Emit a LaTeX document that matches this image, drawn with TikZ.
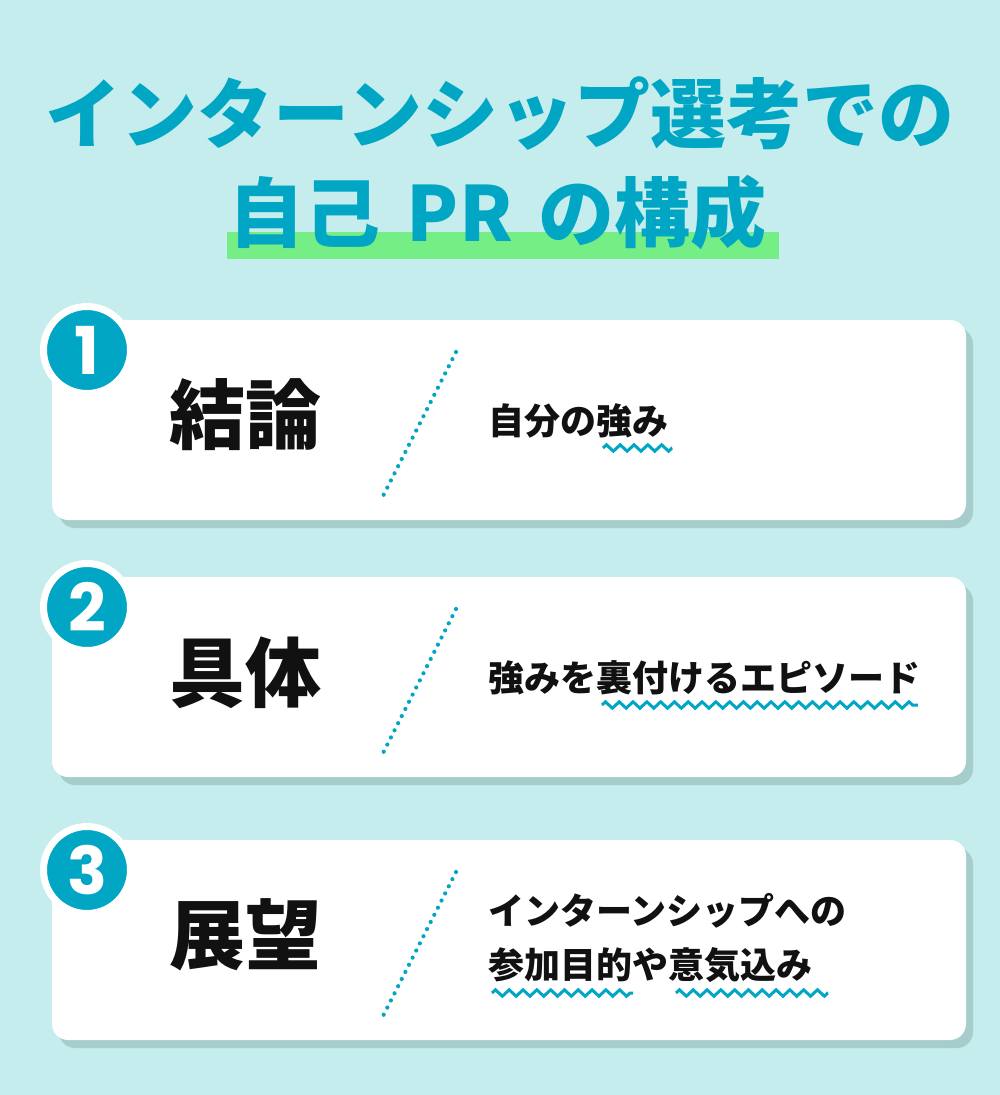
\documentclass[tikz,border=0pt]{standalone}
\usepackage{fontspec}
\newfontfamily\jpfont{Noto Sans CJK JP}
\newfontfamily\numfont{Poppins}
\usetikzlibrary{decorations.pathmorphing}
\definecolor{bgcyan}{RGB}{198,237,237}
\definecolor{tealblue}{RGB}{0,166,196}
\definecolor{markgreen}{RGB}{118,238,134}
\definecolor{shadowgray}{RGB}{166,204,204}
\definecolor{inkblack}{RGB}{17,17,17}

\tikzset{
  cardbox/.style={fill=white, rounded corners=16pt},
  cardshadow/.style={fill=shadowgray, rounded corners=16pt},
  numdisc/.style={circle, fill=tealblue, draw=white, line width=7pt, minimum size=87pt,
    inner sep=0pt, text=white, font=\numfont\bfseries\fontsize{66}{66}\selectfont},
  headword/.style={inner sep=0pt, text=inkblack, font=\jpfont\bfseries\fontsize{76}{76}\selectfont},
  bodytext/.style={inner sep=0pt, anchor=west, text=inkblack, font=\jpfont\bfseries\fontsize{36}{36}\selectfont},
  titletext/.style={inner sep=0pt, text=tealblue, font=\jpfont\bfseries\fontsize{76}{76}\selectfont},
  divider/.style={tealblue, line width=4.2pt, line cap=round, dash pattern=on 0pt off 8pt},
  squiggle/.style={tealblue, line width=3pt, decorate,
    decoration={zigzag, segment length=13.8pt, amplitude=3.2pt}},
}

\begin{document}
\begin{tikzpicture}[x=1pt, y=-1pt]
  \fill [bgcyan] (0,0) rectangle (1000,1095);
  \useasboundingbox (0,0) rectangle (1000,1095);

  % title
  \fill [markgreen] (227,232) rectangle (779,259);
  \node [titletext] (title1) at (500,114) {インターンシップ選考での};
  \node [titletext] (title2) at (498,213) {自己\hspace{26pt}PR\hspace{26pt}の構成};

  % card 1
  \fill [cardshadow] (59,328) rectangle (973,528);
  \fill [cardbox] (52,320) rectangle (966,520);
  \node [numdisc] (num1) at (87,350) {1};
  \node [headword] (head1) at (245,415) {結論};
  \draw [divider] (456,352) -- (381,500);
  \node [bodytext] (body1) at (488,421) {自分の強み};
  \draw [squiggle] (603,448) -- (672,448);

  % card 2
  \fill [cardshadow] (59,585) rectangle (973,785);
  \fill [cardbox] (52,577) rectangle (966,777);
  \node [numdisc] (num2) at (87,607) {2};
  \node [headword] (head2) at (245,673) {具体};
  \draw [divider] (456,609) -- (381,757);
  \node [bodytext] (body2) at (488,678) {強みを裏付けるエピソード};
  \draw [squiggle] (602,705) -- (918,705);

  % card 3
  \fill [cardshadow] (59,848) rectangle (973,1048);
  \fill [cardbox] (52,840) rectangle (966,1040);
  \node [numdisc] (num3) at (87,870) {3};
  \node [headword] (head3) at (245,935) {展望};
  \draw [divider] (456,872) -- (381,1020);
  \node [bodytext] (body3a) at (488,911) {インターンシップへの};
  \node [bodytext] (body3b) at (488,965) {参加目的や意気込み};
  \draw [squiggle] (492,993) -- (633,993);
  \draw [squiggle] (676,993) -- (828,993);
\end{tikzpicture}
\end{document}
